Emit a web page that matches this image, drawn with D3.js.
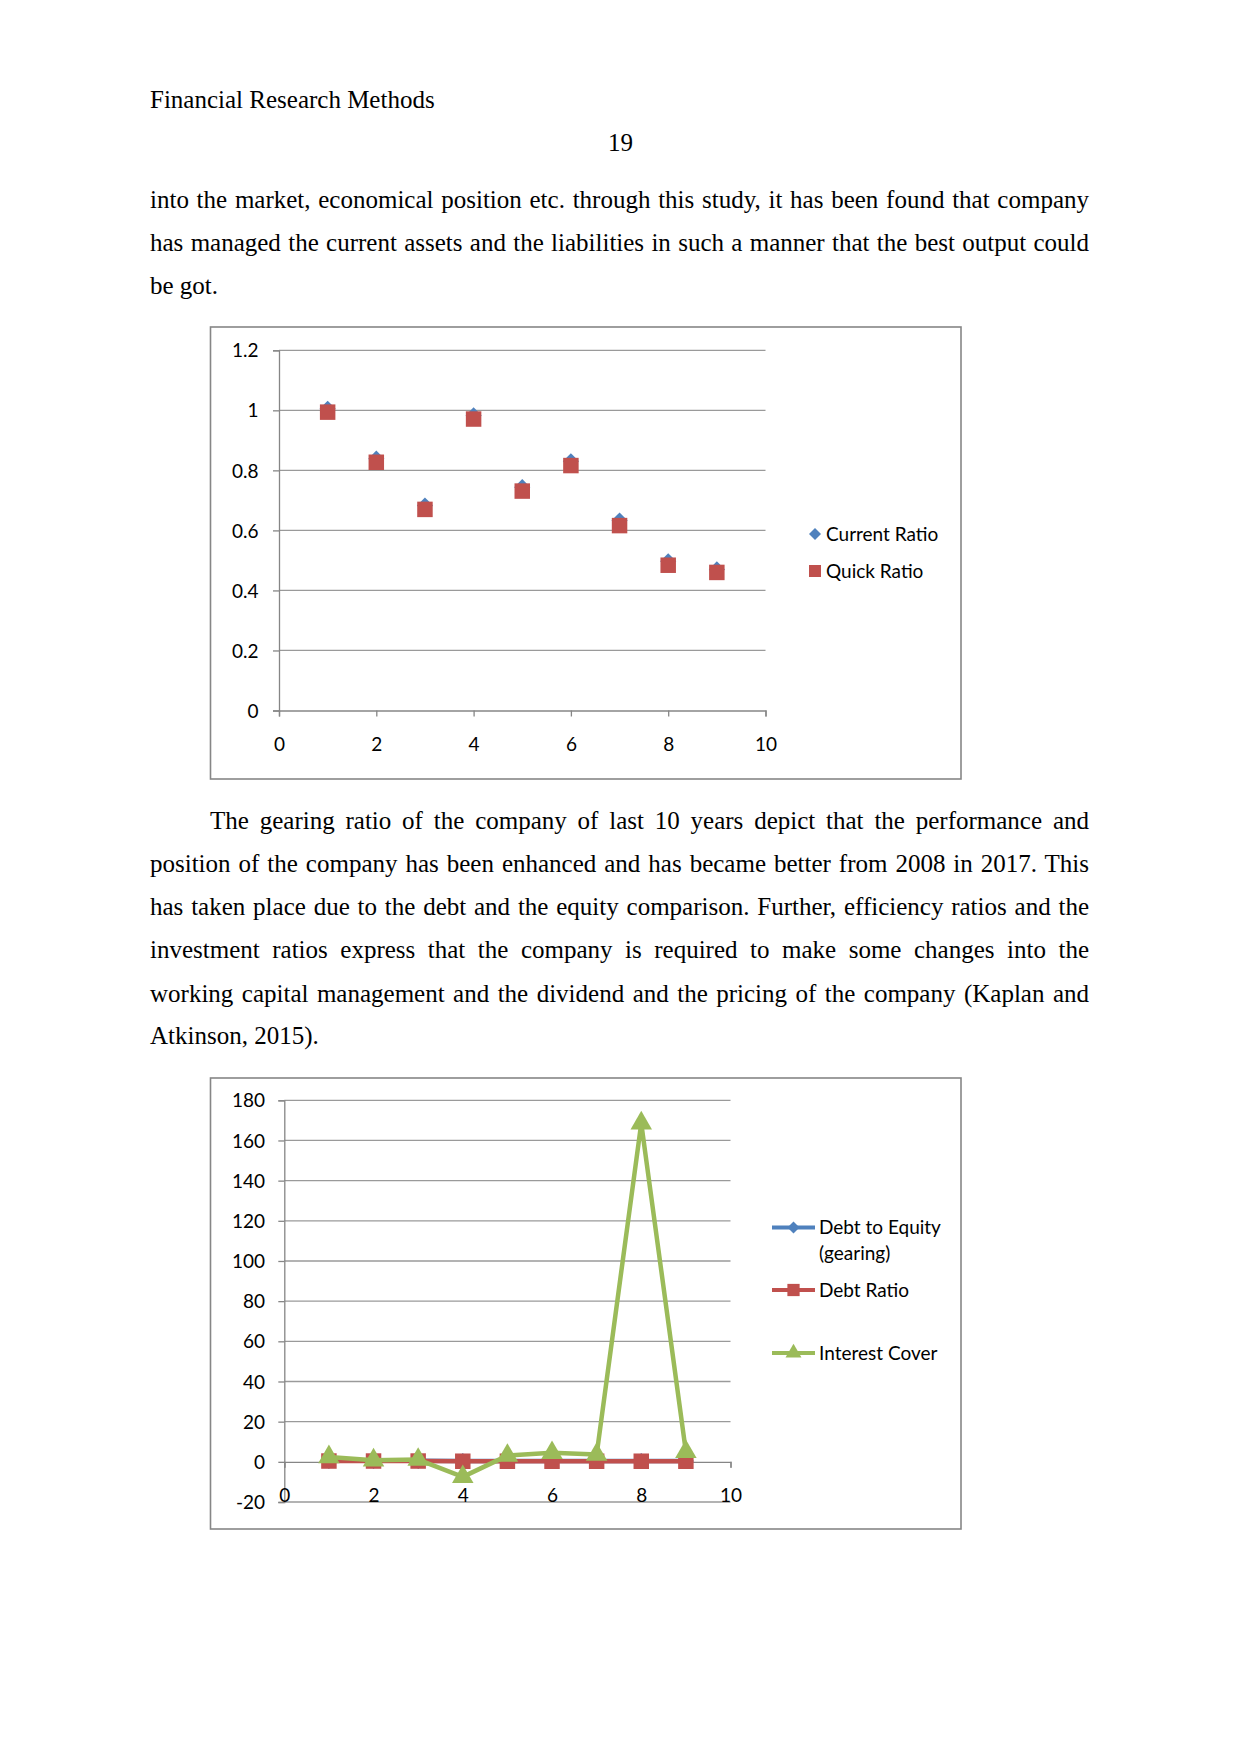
<!DOCTYPE html>
<html><head><meta charset="utf-8">
<script src="https://cdn.jsdelivr.net/npm/d3@7"></script>
<style>
html,body{margin:0;padding:0;background:#fff;width:1241px;height:1754px;overflow:hidden}
.t{position:absolute;font-family:"Liberation Serif","Times New Roman",serif;font-size:25px;line-height:30px;color:#000;white-space:nowrap}
.j{width:939px;text-align:justify;text-align-last:justify;white-space:normal}
svg{position:absolute;left:0;top:0}
svg text{font-family:Lato,"Open Sans",sans-serif;fill:#000}
</style></head><body>
<div id="page"></div>
<svg id="chart" width="1241" height="1754"></svg>
<script>
// ---------- data ----------
const periods = [1, 2, 3, 4, 5, 6, 7, 8, 9];
const currentRatio = [1.005, 0.839, 0.683, 0.983, 0.744, 0.830, 0.633, 0.497, 0.470];
const quickRatio   = [0.994, 0.827, 0.670, 0.971, 0.731, 0.816, 0.616, 0.484, 0.460];
const liquidityYTicks = [0, 0.2, 0.4, 0.6, 0.8, 1, 1.2];
const liquidityXTicks = [0, 2, 4, 6, 8, 10];
const liquiditySeries = ["Current Ratio", "Quick Ratio"];

const debtToEquity  = [0.5, 0.5, 0.5, 0.4, 0.4, 0.4, 0.4, 0.4, 0.4];
const debtRatio     = [0.4, 0.4, 0.4, 0.3, 0.3, 0.3, 0.3, 0.3, 0.3];
const interestCover = [2.4, 0.8, 1.1, -7.5, 3.1, 4.5, 3.6, 168.6, 5.0];
const gearingYTicks = [-20, 0, 20, 40, 60, 80, 100, 120, 140, 160, 180];
const gearingXTicks = [0, 2, 4, 6, 8, 10];
const gearingSeries = ["Debt to Equity|(gearing)", "Debt Ratio", "Interest Cover"];

// ---------- text ----------
const page = d3.select("#page");
const OFF = 15.3;
function line(txt, left, cy, justify) {
  page.append("div").attr("class", "t" + (justify ? " j" : ""))
    .style("left", left + "px").style("top", (cy - OFF) + "px").text(txt);
}
line("Financial Research Methods", 150, 100.5, false);
page.append("div").attr("class", "t").style("left", "0px").style("width", "1241px")
  .style("text-align", "center").style("top", (143.5 - OFF) + "px").text("19");
const para1 = [
  "into the market, economical position etc. through this study, it has been found that company",
  "has managed the current assets and the liabilities in such a manner that the best output could",
  "be got."];
const para1Y = [200, 243, 286];
para1.forEach((s, i) => line(s, 150, para1Y[i], i < para1.length - 1));
const para2 = [
  "The gearing ratio of the company of last 10 years depict that the performance and",
  "position of the company has been enhanced and has became better from 2008 in 2017. This",
  "has taken place due to the debt and the equity comparison. Further, efficiency ratios and the",
  "investment ratios express that the company is required to make some changes into the",
  "working capital management and the dividend and the pricing of the company (Kaplan and",
  "Atkinson, 2015)."];
const para2Y = [821, 864, 907.5, 950.5, 994, 1036.5];
para2.forEach((s, i) => {
  if (i === 0) {
    page.append("div").attr("class", "t j").style("width", "879px")
      .style("left", "210px").style("top", (para2Y[i] - OFF) + "px").text(s);
  } else line(s, 150, para2Y[i], i < para2.length - 1);
});

// ---------- charts ----------
const svg = d3.select("#chart");
const BLUE = "#4F81BD", RED = "#C0504D", GREEN = "#9BBB59";
const GRID = "#9a9a9a", AXIS = "#868686";
const FS = 19;
const fmt = d => String(d);

function frame(x, y, w, h) {
  svg.append("rect").attr("x", x).attr("y", y).attr("width", w).attr("height", h)
    .attr("fill", "#fff").attr("stroke", AXIS).attr("stroke-width", 1.6);
}

// Chart 1
frame(210.5, 327, 750.5, 452);
{
  const x = d3.scaleLinear().domain([0, 10]).range([279, 765.5]);
  const y = d3.scaleLinear().domain([0, 1.2]).range([710.5, 350.3]);
  const g = svg.append("g");
  g.selectAll("line.grid").data(liquidityYTicks.filter(v => v !== 0)).join("line")
    .attr("x1", x(0)).attr("x2", x(10)).attr("y1", d => y(d)).attr("y2", d => y(d))
    .attr("stroke", GRID).attr("stroke-width", 1.3);
  const ya = g.append("g").attr("transform", `translate(${x(0)},0)`)
    .call(d3.axisLeft(y).tickValues(liquidityYTicks).tickFormat(fmt).tickSize(6).tickPadding(14.5));
  const xa = g.append("g").attr("transform", `translate(0,${y(0)})`)
    .call(d3.axisBottom(x).tickValues(liquidityXTicks).tickFormat(fmt).tickSize(6).tickPadding(21));
  [ya, xa].forEach(a => {
    a.select(".domain").attr("stroke", AXIS).attr("stroke-width", 1.3);
    a.selectAll(".tick line").attr("stroke", AXIS).attr("stroke-width", 1.3);
    a.selectAll(".tick text").attr("font-size", FS).attr("font-family", "Lato").attr("fill", "#000");
  });
  ya.selectAll(".tick text").attr("dy", "0.35em");
  const diamond = d3.symbol(d3.symbolSquare, 130);
  const square = d3.symbol(d3.symbolSquare, 240);
  g.selectAll("path.cr").data(periods).join("path")
    .attr("d", diamond).attr("fill", BLUE)
    .attr("transform", (d, i) => `translate(${x(d)},${y(currentRatio[i])}) rotate(45)`);
  g.selectAll("path.qr").data(periods).join("path")
    .attr("d", square).attr("fill", RED)
    .attr("transform", (d, i) => `translate(${x(d)},${y(quickRatio[i])})`);
  const leg = [{ n: liquiditySeries[0], y: 534, c: BLUE, s: d3.symbol(d3.symbolSquare, 72), r: 45 },
               { n: liquiditySeries[1], y: 571, c: RED, s: d3.symbol(d3.symbolSquare, 144), r: 0 }];
  leg.forEach(l => {
    svg.append("path").attr("d", l.s).attr("fill", l.c)
      .attr("transform", `translate(815,${l.y}) rotate(${l.r})`);
    svg.append("text").attr("x", 826).attr("y", l.y).attr("dy", "0.35em")
      .attr("font-size", FS).text(l.n);
  });
}

// Chart 2
frame(210.5, 1078, 750.5, 451);
{
  const x = d3.scaleLinear().domain([0, 10]).range([284.3, 730.5]);
  const y = d3.scaleLinear().domain([-20, 180]).range([1502, 1100.3]);
  const g = svg.append("g");
  g.selectAll("line.grid").data(gearingYTicks.filter(v => v !== 0)).join("line")
    .attr("x1", x(0)).attr("x2", x(10)).attr("y1", d => y(d)).attr("y2", d => y(d))
    .attr("stroke", GRID).attr("stroke-width", 1.3);
  const ya = g.append("g").attr("transform", `translate(${x(0)},0)`)
    .call(d3.axisLeft(y).tickValues(gearingYTicks).tickFormat(fmt).tickSize(6).tickPadding(13.3));
  const xa = g.append("g").attr("transform", `translate(0,${y(0)})`)
    .call(d3.axisBottom(x).tickValues(gearingXTicks).tickFormat(fmt).tickSize(6).tickPadding(20.5));
  [ya, xa].forEach(a => {
    a.select(".domain").attr("stroke", AXIS).attr("stroke-width", 1.3);
    a.selectAll(".tick line").attr("stroke", AXIS).attr("stroke-width", 1.3);
    a.selectAll(".tick text").attr("font-size", FS).attr("font-family", "Lato").attr("fill", "#000");
  });
  ya.selectAll(".tick text").attr("dy", "0.35em");
  const ln = d3.line().x((d, i) => x(periods[i])).y(d => y(d));
  const series = [
    { v: debtToEquity, c: BLUE, s: d3.symbol(d3.symbolSquare, 130), r: 45 },
    { v: debtRatio, c: RED, s: d3.symbol(d3.symbolSquare, 240), r: 0 },
    { v: interestCover, c: GREEN, s: d3.symbol(d3.symbolTriangle, 200), r: 0 }
  ];
  series.forEach(sr => {
    g.append("path").datum(sr.v).attr("d", ln).attr("fill", "none")
      .attr("stroke", sr.c).attr("stroke-width", 4.5).attr("stroke-linejoin", "round");
    g.selectAll(null).data(sr.v).join("path").attr("d", sr.s).attr("fill", sr.c)
      .attr("transform", (d, i) => `translate(${x(periods[i])},${y(d)}) rotate(${sr.r})`);
  });
  const legY = [1227.5, 1290, 1353];
  series.forEach((sr, i) => {
    svg.append("line").attr("x1", 772).attr("x2", 815).attr("y1", legY[i]).attr("y2", legY[i])
      .attr("stroke", sr.c).attr("stroke-width", 4);
    const sym = i === 0 ? d3.symbol(d3.symbolSquare, 72) : i === 1 ? d3.symbol(d3.symbolSquare, 150) : d3.symbol(d3.symbolTriangle, 110);
    svg.append("path").attr("d", sym).attr("fill", sr.c)
      .attr("transform", `translate(793.5,${legY[i]}) rotate(${sr.r})`);
    const parts = gearingSeries[i].split("|");
    parts.forEach((p, k) => {
      svg.append("text").attr("x", 819).attr("y", legY[i] + k * 25.5).attr("dy", "0.35em")
        .attr("font-size", FS).text(p);
    });
  });
}
</script>
</body></html>
